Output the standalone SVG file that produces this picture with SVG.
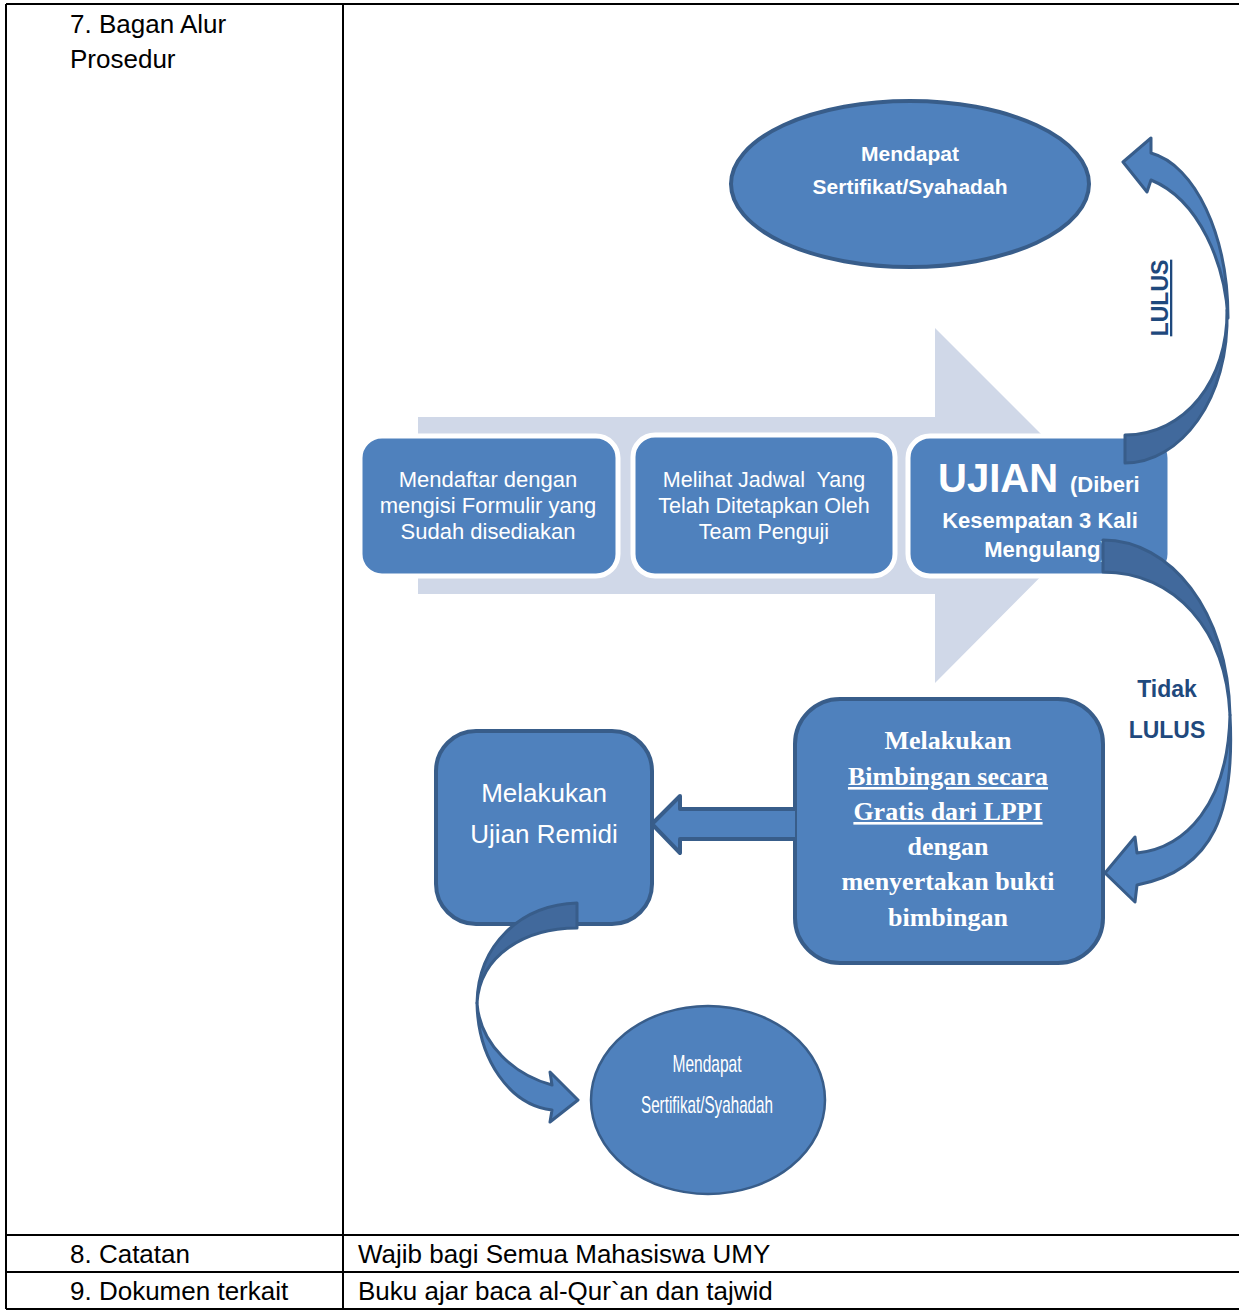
<svg xmlns="http://www.w3.org/2000/svg" width="1239" height="1310" viewBox="0 0 1239 1310">
<style>
.cell{font-family:"Liberation Sans",Arial,sans-serif;font-size:26px;fill:#000}
.grid{stroke:#000;stroke-width:2;fill:none}
.step{fill:#4f81bd;stroke:#fff;stroke-width:5}
.node{fill:#4f81bd;stroke:#385d8a;stroke-width:4}
.wt{font-family:"Liberation Sans",Arial,sans-serif;fill:#fff;text-anchor:middle}
.ser{font-family:"Liberation Serif","Times New Roman",serif;font-weight:bold;font-size:26px;fill:#fff;text-anchor:middle}
.lbl{font-family:"Liberation Sans",Arial,sans-serif;font-weight:bold;font-size:23px;fill:#1f497d;text-anchor:middle}
.front{fill:#4f81bd;stroke:#385d8a;stroke-width:3;stroke-linejoin:round}
.back{fill:#41699c;stroke:#385d8a;stroke-width:3;stroke-linejoin:round}
</style>

<g id="table">
<line class="grid" x1="6" y1="4" x2="1239" y2="4"/>
<line class="grid" x1="6" y1="4" x2="6" y2="1309"/>
<line class="grid" x1="343" y1="4" x2="343" y2="1309"/>
<line class="grid" x1="6" y1="1235" x2="1239" y2="1235"/>
<line class="grid" x1="6" y1="1272" x2="1239" y2="1272"/>
<line class="grid" x1="6" y1="1309" x2="1239" y2="1309"/>
<text class="cell" x="70" y="33">7. Bagan Alur</text>
<text class="cell" x="70" y="68">Prosedur</text>
<text class="cell" x="70" y="1263">8. Catatan</text>
<text class="cell" x="358" y="1263">Wajib bagi Semua Mahasiswa UMY</text>
<text class="cell" x="70" y="1300">9. Dokumen terkait</text>
<text class="cell" x="358" y="1300">Buku ajar baca al-Qur`an dan tajwid</text>
</g>

<g id="flow-arrow">
<path d="M418,417 L935,417 L935,328 L1112,505 L935,683 L935,594 L418,594 Z" fill="#d0d8e8"/>
</g>

<g id="node-mendaftar">
<rect class="step" x="360" y="436" width="258" height="140" rx="22"/>
<text class="wt" font-size="22" x="488" y="487">Mendaftar dengan</text>
<text class="wt" font-size="22" x="488" y="513">mengisi Formulir yang</text>
<text class="wt" font-size="22" x="488" y="539">Sudah disediakan</text>
</g>

<g id="node-jadwal">
<rect class="step" x="633" y="435" width="262" height="141" rx="22"/>
<text class="wt" font-size="21.5" x="764" y="487" xml:space="preserve">Melihat Jadwal  Yang</text>
<text class="wt" font-size="21.5" x="764" y="513">Telah Ditetapkan Oleh</text>
<text class="wt" font-size="21.5" x="764" y="539">Team Penguji</text>
</g>

<g id="node-ujian">
<rect class="step" x="908" y="436" width="262" height="140" rx="22"/>
<text font-family="Liberation Sans,Arial,sans-serif" font-weight="bold" fill="#fff" x="938" y="492"><tspan font-size="40">UJIAN</tspan><tspan font-size="22" dx="12">(Diberi</tspan></text>
<text class="wt" font-weight="bold" font-size="22" x="1040" y="528">Kesempatan 3 Kali</text>
<text class="wt" font-weight="bold" font-size="22" x="1046" y="557">Mengulang)</text>
</g>

<g id="node-sertifikat-top">
<ellipse class="node" cx="910" cy="184" rx="179" ry="83"/>
<text class="wt" font-weight="bold" font-size="21" x="910" y="161">Mendapat</text>
<text class="wt" font-weight="bold" font-size="21" x="910" y="194">Sertifikat/Syahadah</text>
</g>

<g id="node-bimbingan">
<rect class="node" x="795" y="699" width="308" height="264" rx="45"/>
<text class="ser" x="948" y="749">Melakukan</text>
<text class="ser" x="948" y="785" text-decoration="underline">Bimbingan secara</text>
<text class="ser" x="948" y="820" text-decoration="underline">Gratis dari LPPI</text>
<text class="ser" x="948" y="855">dengan</text>
<text class="ser" x="948" y="890">menyertakan bukti</text>
<text class="ser" x="948" y="926">bimbingan</text>
</g>

<g id="node-remidi">
<rect class="node" x="436" y="731" width="216" height="193" rx="40"/>
<text class="wt" font-size="26" x="544" y="802">Melakukan</text>
<text class="wt" font-size="26" x="544" y="843">Ujian Remidi</text>
</g>

<g id="node-sertifikat-bottom">
<ellipse cx="708" cy="1100" rx="117" ry="94" fill="#4f81bd" stroke="#385d8a" stroke-width="2.5"/>
<text class="wt" font-size="24" x="707" y="1072" textLength="69" lengthAdjust="spacingAndGlyphs" fill="#eef2f8">Mendapat</text>
<text class="wt" font-size="24" x="707" y="1113" textLength="132" lengthAdjust="spacingAndGlyphs" fill="#eef2f8">Sertifikat/Syahadah</text>
</g>

<g id="connectors">
<!-- LULUS curved arrow -->
<path class="back" d="M1227,310 C1228,380 1185,435 1125,435 L1125,463 C1180,463 1230,400 1227,310 Z"/>
<path class="front" d="M1151,153 C1195,165 1228,235 1228,318 C1225,265 1200,200 1151,180 L1147,192 L1123,162 L1151,138 Z"/>
<!-- Tidak LULUS curved arrow -->
<path class="back" d="M1103,540 C1170,540 1228,610 1230,715 C1226,630 1175,572 1103,572 Z"/>
<path class="front" d="M1137,853 C1185,848 1228,805 1230,715 C1235,810 1215,870 1137,885 L1135,902 L1105,873 L1135,837 Z"/>
<!-- block arrow to remidi -->
<path class="node" stroke-width="3.5" stroke-linejoin="round" d="M795,809 L680,809 L680,796 L652,824 L680,853 L680,839 L795,839"/>
<!-- remidi to sertifikat -->
<path class="back" d="M577,903 C520,905 478,945 477,1003 C480,955 525,928 577,928 Z"/>
<path class="front" d="M552,1085 C515,1075 480,1045 477,1003 C478,1060 510,1105 552,1110 L550,1122 L578,1100 L550,1072 Z"/>
</g>

<g id="labels">
<text class="lbl" font-size="22" transform="translate(1168,298) rotate(-90)" text-decoration="underline">LULUS</text>
<text class="lbl" x="1167" y="697">Tidak</text>
<text class="lbl" x="1167" y="738">LULUS</text>
</g>
</svg>
